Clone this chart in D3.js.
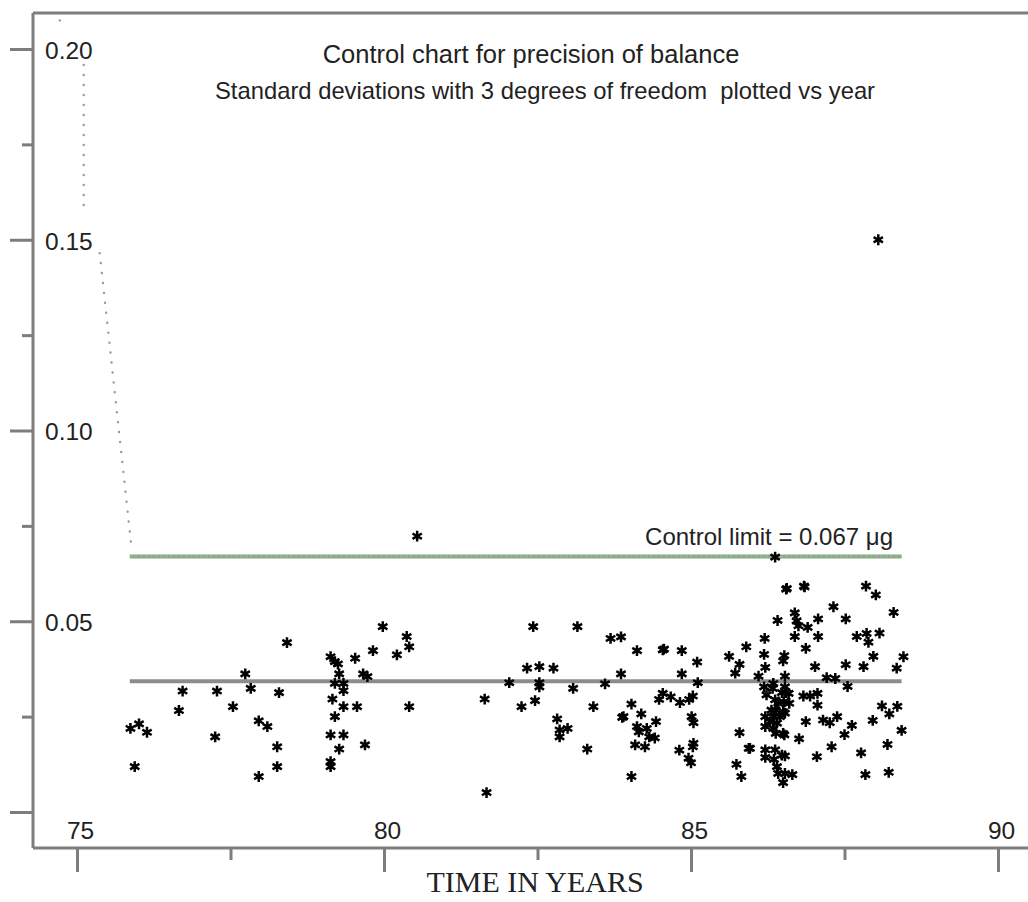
<!DOCTYPE html>
<html>
<head>
<meta charset="utf-8">
<script src="https://cdn.jsdelivr.net/npm/d3@7"></script>
<style>
  body { margin: 0; background: #fff; }
  text { font-family: "Liberation Sans", Arial, Helvetica, sans-serif; fill: #222; }
</style>
</head>
<body>
<div id="chart"></div>
<script>
// observations: year of measurement and standard deviation (ug)
var years = [
  75.87, 76.01, 76.14, 75.94, 76.72, 76.66, 77.28, 77.25, 77.74, 77.83,
  77.54, 77.96, 78.10, 78.29, 78.42, 78.26, 78.26, 77.96, 79.13, 79.20,
  79.25, 79.27, 79.20, 79.34, 79.34, 79.16, 79.34, 79.56, 79.20, 79.13,
  79.34, 79.27, 79.69, 79.13, 79.13, 79.53, 79.82, 79.98, 79.66, 79.73,
  80.37, 80.41, 80.21, 80.41, 80.54, 82.43, 83.15, 83.69, 83.86, 84.12,
  82.33, 82.53, 82.76, 82.04, 82.53, 82.53, 83.08, 83.60, 83.86, 81.64,
  82.24, 82.46, 83.41, 82.82, 82.86, 82.86, 82.99, 83.31, 83.90, 83.88,
  84.03, 84.19, 84.12, 84.28, 84.32, 84.09, 84.25, 84.43, 84.48, 84.41,
  84.03, 81.67, 84.15, 84.54, 84.56, 84.85, 85.10, 84.85, 85.11, 84.54,
  84.67, 84.82, 84.97, 85.03, 85.01, 85.04, 85.04, 85.03, 84.81, 84.96,
  85.00, 85.62, 85.79, 85.72, 85.90, 86.20, 86.19, 86.21, 86.10, 86.52,
  86.50, 86.53, 86.41, 86.55, 86.56, 86.84, 86.85, 86.69, 86.72, 86.75,
  86.90, 87.07, 87.07, 86.69, 86.87, 87.32, 87.52, 87.85, 88.01, 88.30,
  87.70, 87.86, 87.89, 88.07, 87.97, 87.81, 87.52, 87.02, 88.35, 88.46,
  87.21, 87.35, 87.55, 86.83, 86.94, 87.06, 87.06, 86.87, 87.15, 87.26,
  87.38, 87.62, 87.50, 86.76, 87.29, 87.05, 88.11, 88.23, 88.36, 87.96,
  88.43, 88.20, 87.77, 87.84, 88.22, 85.79, 85.94, 85.96, 85.74, 85.82,
  86.65, 86.50, 86.37, 86.19, 86.34, 86.53, 86.48, 86.55, 86.23, 86.37,
  86.42, 86.51, 86.31, 86.38, 86.50, 86.21, 86.35, 86.45, 86.29, 86.40,
  86.21, 86.34, 86.38, 86.52, 86.37, 86.48, 86.53, 86.21, 86.35, 86.40,
  86.53, 86.21, 86.33, 86.60, 86.59, 86.53, 86.50, 86.42, 88.05
];
var stdDevs = [
  0.0219, 0.0231, 0.0209, 0.0119, 0.0317, 0.0266, 0.0317, 0.0197, 0.0362, 0.0324,
  0.0276, 0.0239, 0.0224, 0.0313, 0.0444, 0.0171, 0.0119, 0.0093, 0.0407, 0.0394,
  0.0388, 0.0362, 0.0337, 0.0337, 0.0318, 0.0296, 0.0276, 0.0276, 0.0250, 0.0202,
  0.0202, 0.0165, 0.0176, 0.0132, 0.0119, 0.0403, 0.0423, 0.0486, 0.0362, 0.0355,
  0.0460, 0.0433, 0.0412, 0.0276, 0.0723, 0.0486, 0.0486, 0.0455, 0.0459, 0.0423,
  0.0377, 0.0381, 0.0377, 0.0339, 0.0339, 0.0328, 0.0324, 0.0336, 0.0362, 0.0296,
  0.0276, 0.0292, 0.0276, 0.0244, 0.0215, 0.0197, 0.0219, 0.0165, 0.0250, 0.0248,
  0.0283, 0.0257, 0.0224, 0.0219, 0.0197, 0.0176, 0.0171, 0.0237, 0.0295, 0.0194,
  0.0093, 0.0051, 0.0210, 0.0425, 0.0427, 0.0423, 0.0393, 0.0362, 0.0339, 0.0311,
  0.0302, 0.0287, 0.0295, 0.0304, 0.0250, 0.0234, 0.0180, 0.0171, 0.0162, 0.0141,
  0.0129, 0.0408, 0.0387, 0.0364, 0.0433, 0.0455, 0.0413, 0.0379, 0.0356, 0.0410,
  0.0396, 0.0356, 0.0502, 0.0584, 0.0586, 0.0592, 0.0590, 0.0522, 0.0501, 0.0488,
  0.0484, 0.0506, 0.0460, 0.0460, 0.0429, 0.0538, 0.0506, 0.0592, 0.0569, 0.0523,
  0.0460, 0.0468, 0.0445, 0.0469, 0.0408, 0.0381, 0.0386, 0.0381, 0.0377, 0.0407,
  0.0352, 0.0350, 0.0329, 0.0304, 0.0304, 0.0311, 0.0280, 0.0237, 0.0241, 0.0234,
  0.0250, 0.0227, 0.0203, 0.0192, 0.0171, 0.0145, 0.0278, 0.0257, 0.0277, 0.0240,
  0.0214, 0.0177, 0.0155, 0.0098, 0.0104, 0.0208, 0.0167, 0.0167, 0.0125, 0.0093,
  0.0098, 0.0077, 0.0668, 0.0328, 0.0337, 0.0328, 0.0313, 0.0313, 0.0307, 0.0294,
  0.0285, 0.0289, 0.0267, 0.0267, 0.0263, 0.0250, 0.0250, 0.0250, 0.0237, 0.0233,
  0.0224, 0.0219, 0.0206, 0.0202, 0.0163, 0.0149, 0.0147, 0.0143, 0.0138, 0.0119,
  0.0101, 0.0163, 0.0324, 0.0285, 0.0311, 0.0259, 0.0206, 0.0101, 0.1500
];

// axis ticks
var majorYTicks = [0, 0.05, 0.10, 0.15, 0.20];
var minorYTicks = [0.025, 0.075, 0.125, 0.175];
var majorXTicks = [75, 80, 85, 90];
var minorXTicks = [77.5, 82.5, 87.5];

// reference lines
var meanSd = 0.0343;
var controlLimit = 0.067;
var lineYears = [75.86, 88.43];

// dotted limit curve, drawn as separate pieces
var curveYears = [[74.72, 74.72], [75.11, 75.11], [75.37, 75.88]];
var curveSds = [[0.2075, 0.2075], [0.1958, 0.1566], [0.1465, 0.0705]];

var width = 1028, height = 902;
var axisLeftX = 33, frameTop = 13, axisBottomY = 848;
var axisColor = '#7d7d7d';

var x = d3.scaleLinear().domain([75, 90]).range([77, 998]);
var y = d3.scaleLinear().domain([0, 0.20]).range([812, 49]);

var svg = d3.select('#chart')
  .append('svg')
  .attr('width', width)
  .attr('height', height);

// dotted curve
var line = d3.line()
  .x(function(d) { return x(d[0]); })
  .y(function(d) { return y(d[1]); });

svg.selectAll('.curve')
  .data(curveYears.map(function(ys, i) {
    return ys.map(function(v, j) { return [v, curveSds[i][j]]; });
  }))
  .enter()
  .append('path')
    .attr('class', 'curve')
    .attr('d', line)
    .attr('fill', 'none')
    .attr('stroke', '#9a9a9a')
    .attr('stroke-width', 2.4)
    .attr('stroke-linecap', 'round')
    .attr('stroke-dasharray', '0.1,9.9');

// control limit line (grey with green dashes)
svg.append('line')
  .attr('x1', x(lineYears[0])).attr('x2', x(lineYears[1]))
  .attr('y1', y(controlLimit)).attr('y2', y(controlLimit))
  .attr('stroke', '#9b9b9b')
  .attr('stroke-width', 4);
svg.append('line')
  .attr('x1', x(lineYears[0])).attr('x2', x(lineYears[1]))
  .attr('y1', y(controlLimit)).attr('y2', y(controlLimit))
  .attr('stroke', '#5fe05f')
  .attr('stroke-width', 1.8)
  .attr('stroke-dasharray', '3,2');

// mean line
svg.append('line')
  .attr('x1', x(lineYears[0])).attr('x2', x(lineYears[1]))
  .attr('y1', y(meanSd)).attr('y2', y(meanSd))
  .attr('stroke', '#8c8c8c')
  .attr('stroke-width', 4);

// asterisks
var star = d3.symbol().type(d3.symbolAsterisk).size(82);
svg.selectAll('.pt')
  .data(years)
  .enter()
  .append('path')
    .attr('class', 'pt')
    .attr('d', star)
    .attr('transform', function(d, i) {
      return 'translate(' + x(d) + ',' + y(stdDevs[i]) + ')';
    })
    .attr('fill', 'none')
    .attr('stroke', '#000')
    .attr('stroke-width', 2.5);

// y axis, labels sit inside the plot
var yMajor = svg.append('g')
  .attr('transform', 'translate(' + axisLeftX + ',0)')
  .call(d3.axisLeft(y).tickValues(majorYTicks).tickSize(23)
    .tickFormat(function(d) { return d === 0 ? '' : d3.format('.2f')(d); }));
yMajor.selectAll('text')
  .attr('x', 12)
  .attr('dy', '0.38em')
  .attr('text-anchor', 'start')
  .style('font-size', '24.5px');

var yMinor = svg.append('g')
  .attr('transform', 'translate(' + axisLeftX + ',0)')
  .call(d3.axisLeft(y).tickValues(minorYTicks).tickSize(11).tickFormat(''));

// x axis, labels sit above the axis line
var xMajor = svg.append('g')
  .attr('transform', 'translate(0,' + axisBottomY + ')')
  .call(d3.axisBottom(x).tickValues(majorXTicks).tickSize(24));
xMajor.selectAll('text')
  .attr('y', -9)
  .attr('dy', '0')
  .attr('dx', 3)
  .style('font-size', '24.5px');

var xMinor = svg.append('g')
  .attr('transform', 'translate(0,' + axisBottomY + ')')
  .call(d3.axisBottom(x).tickValues(minorXTicks).tickSize(12).tickFormat(''));

svg.selectAll('.domain').remove();
svg.selectAll('.tick line')
  .attr('stroke', axisColor)
  .attr('stroke-width', 3);

// frame lines
svg.append('line')
  .attr('x1', axisLeftX).attr('x2', axisLeftX)
  .attr('y1', frameTop).attr('y2', axisBottomY)
  .attr('stroke', axisColor).attr('stroke-width', 3);
svg.append('line')
  .attr('x1', axisLeftX).attr('x2', width)
  .attr('y1', frameTop).attr('y2', frameTop)
  .attr('stroke', axisColor).attr('stroke-width', 3);
svg.append('line')
  .attr('x1', axisLeftX).attr('x2', width)
  .attr('y1', axisBottomY).attr('y2', axisBottomY)
  .attr('stroke', axisColor).attr('stroke-width', 3);

// titles
svg.append('text')
  .attr('x', 531).attr('y', 63)
  .attr('text-anchor', 'middle')
  .style('font-size', '25.5px')
  .text('Control chart for precision of balance');
svg.append('text')
  .attr('x', 545).attr('y', 99)
  .attr('text-anchor', 'middle')
  .style('font-size', '23.8px')
  .text('Standard deviations with 3 degrees of freedom\u00a0 plotted vs year');

// control limit label
svg.append('text')
  .attr('x', 893).attr('y', y(controlLimit) - 11)
  .attr('text-anchor', 'end')
  .style('font-size', '24px')
  .text('Control limit = 0.067 \u03bcg');

// x axis title
svg.append('text')
  .attr('x', 535).attr('y', 892)
  .attr('text-anchor', 'middle')
  .style('font-family', '"Liberation Serif", "Times New Roman", serif')
  .style('font-size', '30px')
  .text('TIME IN YEARS');
</script>
</body>
</html>
